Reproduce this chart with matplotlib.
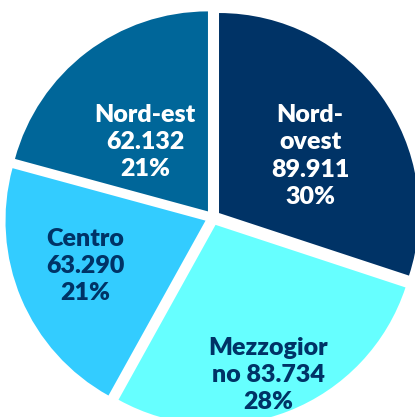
import numpy as np
import matplotlib
matplotlib.use("Agg")
from matplotlib import pyplot as plt

# regional totals (thousands separator is '.')
regions = ["Nord-ovest", "Mezzogiorno", "Centro", "Nord-est"]
names = ["Nord-\novest\n", "Mezzogior\nno ", "Centro\n", "Nord-est\n"]
values = [89911, 83734, 63290, 62132]
colors = ["#003366", "#66FFFF", "#33CCFF", "#006699"]
text_colors = ["white", "#003366", "#003366", "white"]

W, H = 415, 417
cx, cy = 212.7, 217.6   # pie centre in pixels
R = 200.0

def to_data(px, py):
    return (px - cx) / R, (cy - py) / R

fig = plt.figure(figsize=(W / 100, H / 100), dpi=100)
ax = fig.add_axes([0, 0, 1, 1])

wedges, _ = ax.pie(values, colors=colors, startangle=90, counterclock=False,
                   explode=[0.039] * 4, radius=1,
                   wedgeprops=dict(linewidth=0))

total = sum(values)
label_pos = [(310, 156), (268, 375), (85, 266), (145, 142)]
for name, v, tc, (px, py) in zip(names, values, text_colors, label_pos):
    pct = round(100 * v / total)
    txt = name + f"{v:,}".replace(",", ".") + "\n" + f"{pct}%"
    x, y = to_data(px, py)
    ax.text(x, y, txt, ha="center", va="center", color=tc,
            fontsize=18, fontweight="heavy", family="Lato", linespacing=1.3)

ax.set_xlim(-cx / R, (W - cx) / R)
ax.set_ylim((cy - H) / R, cy / R)
ax.set_aspect("auto")
ax.axis("off")

fig.savefig("out.png", dpi=100)
